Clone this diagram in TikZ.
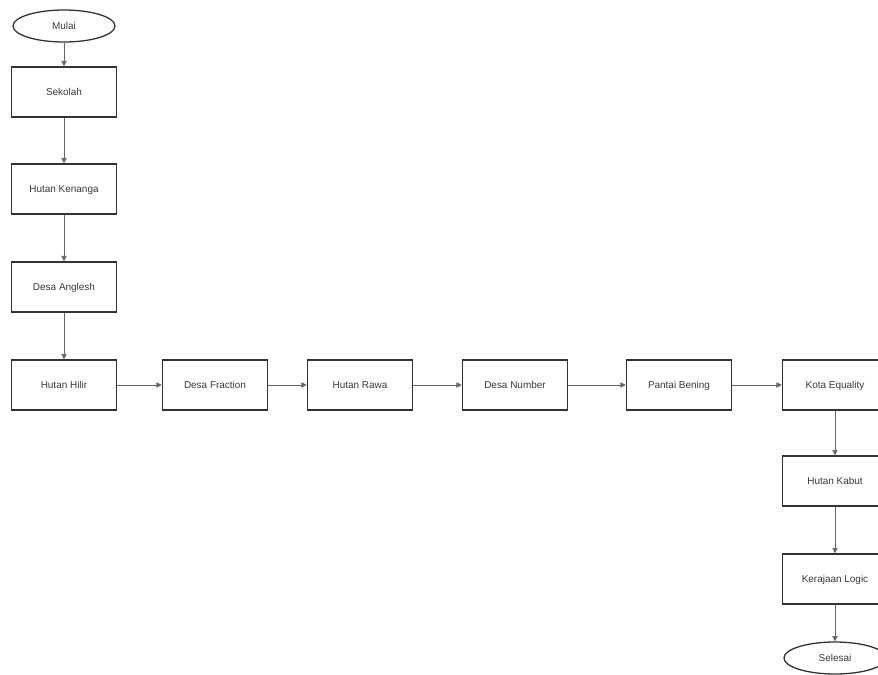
\documentclass[tikz,border=0pt]{standalone}
\usepackage{fontspec}
\setmainfont{Liberation Sans}
\usetikzlibrary{shapes.geometric, arrows.meta, positioning}
\definecolor{boxline}{HTML}{333333}
\definecolor{linkgrey}{HTML}{666666}
\definecolor{textgrey}{HTML}{3a3a3a}
\tikzset{
  placebox/.style={rectangle, draw=boxline, fill=white, line width=1.3pt,
                   minimum width=3.15cm, minimum height=1.5cm,
                   text height=1.6ex, text depth=0.4ex,
                   align=center, font=\fontsize{8.5}{10}\selectfont, text=textgrey},
  termnode/.style={ellipse, draw=boxline, fill=white, line width=1.1pt,
                   minimum width=3.06cm, minimum height=0.96cm, inner sep=0pt,
                   text height=1.6ex, text depth=0.4ex,
                   align=center, font=\fontsize{8.5}{10}\selectfont, text=textgrey},
  link/.style={-{Triangle[length=1.6mm,width=1.6mm]}, line width=0.6pt, draw=linkgrey},
}
\begin{document}
\begin{tikzpicture}[x=0.03cm, y=-0.03cm]
  % frame of the page (picture runs off the right and bottom edges)
  \useasboundingbox (0,0) rectangle (878,674);
  \clip (0,0) rectangle (878,674);

  % left column, top to bottom
  \node[termnode] (mulai)    at (64, 26)  {Mulai};
  \node[placebox] (sekolah)  at (64, 92)  {Sekolah};
  \node[placebox] (kenanga)  at (64, 189) {Hutan Kenanga};
  \node[placebox] (anglesh)  at (64, 287) {Desa Anglesh};
  \node[placebox] (hilir)    at (64, 385) {Hutan Hilir};

  % middle row, left to right
  \node[placebox] (fraction) at (215, 385) {Desa Fraction};
  \node[placebox] (rawa)     at (360, 385) {Hutan Rawa};
  \node[placebox] (number)   at (515, 385) {Desa Number};
  \node[placebox] (bening)   at (679, 385) {Pantai Bening};
  \node[placebox] (equality) at (835, 385) {Kota Equality};

  % right column, down to the end
  \node[placebox] (kabut)    at (835, 481) {Hutan Kabut};
  \node[placebox] (logic)    at (835, 579) {Kerajaan Logic};
  \node[termnode] (selesai)  at (835, 658) {Selesai};

  % connectors
  \foreach \a/\b in {mulai/sekolah, sekolah/kenanga, kenanga/anglesh, anglesh/hilir,
                     hilir/fraction, fraction/rawa, rawa/number, number/bening,
                     bening/equality, equality/kabut, kabut/logic, logic/selesai}
    {\draw[link] (\a) -- (\b);}
\end{tikzpicture}
\end{document}
